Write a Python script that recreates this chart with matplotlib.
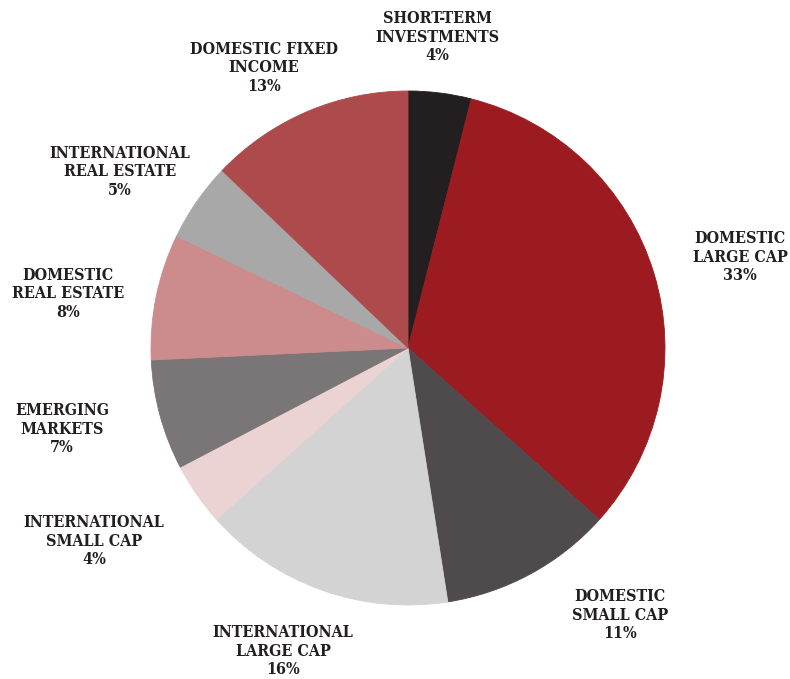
import matplotlib.pyplot as plt

categories = ["SHORT-TERM\nINVESTMENTS", "DOMESTIC\nLARGE CAP", "DOMESTIC\nSMALL CAP",
              "INTERNATIONAL\nLARGE CAP", "INTERNATIONAL\nSMALL CAP", "EMERGING\nMARKETS",
              "DOMESTIC\nREAL ESTATE", "INTERNATIONAL\nREAL ESTATE", "DOMESTIC FIXED\nINCOME"]
shares = [4, 33, 11, 16, 4, 7, 8, 5, 13]
colors = ["#231f20", "#9b1b20", "#4f4b4c", "#d3d3d3", "#ebd2d3",
          "#7a7677", "#cc8b8c", "#a8a8a8", "#ad4a4c"]

# label anchor (centre of text block) in pixels from top-left
label_xy = [(437, 37), (740, 257), (620, 615), (283, 651), (94, 541),
            (62, 429), (68, 294), (120, 172), (264, 68)]

W, H = 790, 679
cx, cy, r = 408, 348, 257

fig = plt.figure(figsize=(W / 100, H / 100), dpi=100)
ax = fig.add_axes([(cx - r) / W, (H - cy - r) / H, 2 * r / W, 2 * r / H])
wedges, _ = ax.pie(shares, colors=colors, startangle=90, counterclock=False, radius=1)
for w, c in zip(wedges, colors):
    w.set_edgecolor(c)
    w.set_linewidth(0.6)
ax.set_xlim(-1, 1)
ax.set_ylim(-1, 1)
ax.axis("off")

for name, val, (x, y) in zip(categories, shares, label_xy):
    fig.text(x / W, 1 - y / H, f"{name}\n{val}%", ha="center", va="center",
             family="DejaVu Serif", stretch="condensed", weight="bold",
             fontsize=11.5, color="#231f20", linespacing=1.12)

fig.savefig("out.png", dpi=100)
